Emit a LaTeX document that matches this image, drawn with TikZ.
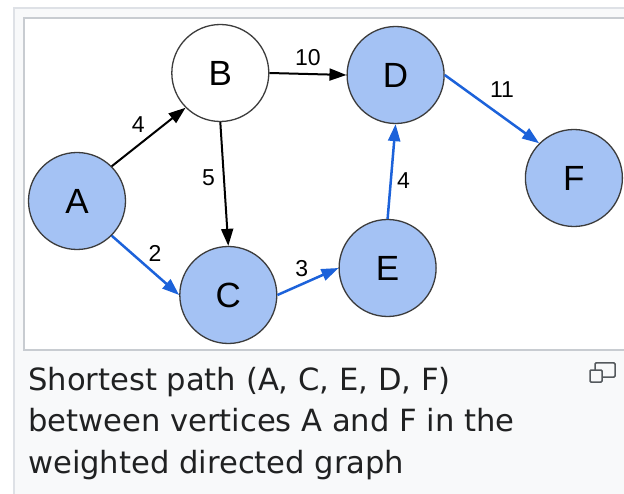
\documentclass[tikz,border=0pt]{standalone}
\usepackage{fontspec}
\setmainfont{DejaVu Sans}
\newfontfamily\graphfont{Liberation Sans}
\usepackage{tikz}
\usetikzlibrary{arrows.meta, positioning}
\definecolor{nodeblue}{RGB}{164,194,244}
\definecolor{pathblue}{RGB}{28,98,218}
\definecolor{rimgray}{RGB}{60,60,60}
\definecolor{captext}{RGB}{32,33,34}
\definecolor{boxfill}{RGB}{248,249,250}
\definecolor{outerline}{RGB}{222,225,230}
\definecolor{innerline}{RGB}{200,204,209}
\definecolor{icongray}{RGB}{84,89,93}
\tikzset{
    vertex/.style={circle, draw=rimgray, line width=1.3pt, fill=nodeblue,
                   minimum size=97pt, inner sep=0pt,
                   font=\graphfont\fontsize{35}{35}\selectfont},
    plainvertex/.style={vertex, fill=white},
    arrow/.style={-{Triangle[length=17pt, width=12pt]}, line width=2pt, draw=black},
    patharrow/.style={arrow, draw=pathblue, line width=2.5pt},
    weight/.style={font=\graphfont\fontsize{23}{23}\selectfont, inner sep=3pt, text=black},
    caption/.style={align=left, inner sep=0pt, text=captext,
                    font=\fontsize{30.6}{41.5}\selectfont},
}

\begin{document}
\begin{tikzpicture}[x=1pt, y=1pt]
    % Frame
    \useasboundingbox (0,0) rectangle (624,-494);
    \fill[white] (0,0) rectangle (624,-494);
    \filldraw[fill=boxfill, draw=outerline, line width=2pt] (14,-8) rectangle (640,-510);
    \filldraw[fill=white, draw=innerline, line width=2pt] (23.5,-18.5) rectangle (640,-350);

    % Vertices
    \node[vertex] (A) at (77,-201) {A};
    \node[plainvertex, right=45pt of A, yshift=128pt] (B) {B};
    \node[vertex, right=53pt of A, yshift=-94pt] (C) {C};
    \node[vertex, right=77pt of B, yshift=-2pt] (D) {D};
    \node[vertex, right=61pt of C, yshift=27pt] (E) {E};
    \node[vertex, right=80pt of D, yshift=-103pt] (F) {F};

    % Edges
    \draw[arrow] (A.north east) -- node[weight, above left=0pt] {4} (B.south west);
    \draw[arrow] (B.south) -- node[weight, pos=0.45, left=5pt] {5} (C.north);
    \draw[arrow] (B.east) -- node[weight, above=4pt] {10} (D.west);

    % Shortest path
    \draw[patharrow] (A.south east) -- node[weight, above right=0pt, xshift=-1pt] {2} (C.west);
    \draw[patharrow] (C.east) -- node[weight, pos=0.4, above=3pt] {3} (E.west);
    \draw[patharrow] (E.north) -- node[weight, pos=0.4, right=2pt] {4} (D.south);
    \draw[patharrow] (D.east) -- node[weight, pos=0.42, above right=2pt] {11} (F.north west);

    % Caption
    \node[caption, anchor=north west] (cap) at (28,-367)
        {Shortest path (A, C, E, D, F)\\between vertices A and F in the\\weighted directed graph};
    \draw[icongray, line width=1.5pt, rounded corners=1pt] (595,-363) rectangle (615,-377);
    \filldraw[fill=boxfill, draw=icongray, line width=1.5pt, rounded corners=1pt] (590,-370) rectangle (602,-382);
\end{tikzpicture}
\end{document}
